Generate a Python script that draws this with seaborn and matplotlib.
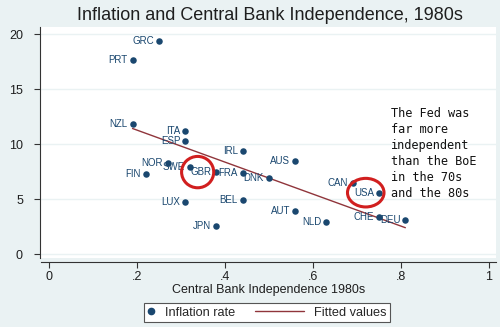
import numpy as np
import pandas as pd
import matplotlib
matplotlib.use("Agg")
import matplotlib.pyplot as plt
from matplotlib.patches import Ellipse
from matplotlib.lines import Line2D
from matplotlib.legend_handler import HandlerLine2D
import seaborn as sns

# ---- data ----
countries = ["GRC", "PRT", "NZL", "ITA", "ESP", "IRL", "NOR", "SWE", "FIN", "GBR",
             "FRA", "LUX", "BEL", "JPN", "DNK", "AUS", "CAN", "USA", "AUT", "NLD",
             "CHE", "DEU"]
cbi = [0.25, 0.19, 0.19, 0.31, 0.31, 0.44, 0.27, 0.32, 0.22, 0.38,
       0.44, 0.31, 0.44, 0.38, 0.50, 0.56, 0.69, 0.75, 0.56, 0.63,
       0.75, 0.81]
inflation = [19.4, 17.6, 11.85, 11.2, 10.25, 9.35, 8.3, 7.95, 7.3, 7.45,
             7.35, 4.7, 4.9, 2.55, 6.95, 8.45, 6.5, 5.55, 3.9, 2.9,
             3.35, 3.05]
x_ticks = [0, 0.2, 0.4, 0.6, 0.8, 1.0]
x_tick_labels = ["0", ".2", ".4", ".6", ".8", "1"]
y_ticks = [0, 5, 10, 15, 20]
y_tick_labels = ["0", "5", "10", "15", "20"]
title = "Inflation and Central Bank Independence, 1980s"
x_label = "Central Bank Independence 1980s"
legend_labels = ["Inflation rate", "Fitted values"]
note = "The Fed was\nfar more\nindependent\nthan the BoE\nin the 70s\nand the 80s"
circled = ["GBR", "USA"]

df = pd.DataFrame({"country": countries, "cbi": cbi, "inflation": inflation})

# ---- style ----
sns.set_theme(style="white")
plt.rcParams["font.family"] = ["Liberation Sans", "DejaVu Sans"]

NAVY = "#1a476f"
MAROON = "#90353b"
BG = "#eaf2f3"

fig = plt.figure(figsize=(5.0, 3.27), dpi=100, facecolor=BG)
ax = fig.add_axes([41 / 500, 1 - 258 / 327, (496 - 41) / 500, (258 - 27) / 327])
ax.set_facecolor("white")

sns.scatterplot(data=df, x="cbi", y="inflation", ax=ax, color=NAVY, s=22,
                edgecolor=NAVY, linewidth=0, zorder=3, legend=False)
sns.regplot(data=df, x="cbi", y="inflation", ax=ax, scatter=False, ci=None,
            line_kws=dict(color=MAROON, lw=1.0, zorder=2))

for c, xv, yv in zip(countries, cbi, inflation):
    ax.annotate(c, (xv, yv), xytext=(-3.5, 0), textcoords="offset points",
                ha="right", va="center", fontsize=7, color=NAVY, zorder=4)

# red circles around highlighted countries
circle_specs = {"GBR": (-0.042, 0.0, 0.073, 2.85), "USA": (-0.03, 0.03, 0.083, 2.6)}
for c in circled:
    i = countries.index(c)
    dx, dy, w, h = circle_specs[c]
    ax.add_patch(Ellipse((cbi[i] + dx, inflation[i] + dy), w, h, fill=False,
                         edgecolor="#d11f1f", lw=2.2, zorder=5))

ax.text(0.777, 13.35, note, family="DejaVu Sans Mono", fontsize=8.6,
        va="top", ha="left", linespacing=1.3, color="#111111", zorder=6)

ax.set_xlim(-0.018, 1.016)
ax.set_ylim(-0.36, 20.64)
ax.set_xticks(x_ticks)
ax.set_xticklabels(x_tick_labels)
ax.set_yticks(y_ticks)
ax.set_yticklabels(y_tick_labels, rotation=90, va="center")
ax.yaxis.grid(True, color=BG, lw=1.0)
ax.set_axisbelow(True)
ax.tick_params(axis="both", which="major", direction="out", length=4, width=0.8,
               color="#333333", labelsize=9, labelcolor="#1e1e1e", pad=2,
               bottom=True, left=True)
ax.tick_params(axis="y", pad=8)

for s in ["top", "right"]:
    ax.spines[s].set_visible(False)
ax.spines["left"].set_position(("outward", 1))
ax.spines["bottom"].set_position(("outward", 3))
for s in ["left", "bottom"]:
    ax.spines[s].set_color("#333333")
    ax.spines[s].set_linewidth(0.8)

ax.set_xlabel(x_label, fontsize=9, color="#1e1e1e", labelpad=1)
ax.set_ylabel("")
fig.text(269.5 / 500, 1 - 16 / 327, title, ha="center", va="center",
         fontsize=13, color="#1e1e1e")


class NarrowMarkerHandler(HandlerLine2D):
    def legend_artist(self, legend, orig_handle, fontsize, handlebox):
        handlebox.width = 5.0
        return super().legend_artist(legend, orig_handle, fontsize, handlebox)


marker_handle = Line2D([], [], marker="o", color=NAVY, linestyle="none", markersize=4.5)
line_handle = Line2D([], [], color=MAROON, lw=1.0)
leg = fig.legend([marker_handle, line_handle], legend_labels, ncol=2,
                 loc="center", bbox_to_anchor=(267 / 500, 1 - 312.5 / 327),
                 fontsize=9.2, frameon=True, fancybox=False, edgecolor="#555555",
                 facecolor="white", framealpha=1, handlelength=3.8,
                 columnspacing=1.6, handletextpad=0.8, borderpad=0.3,
                 borderaxespad=0,
                 handler_map={marker_handle: NarrowMarkerHandler()})
leg.get_frame().set_linewidth(0.8)

fig.savefig("out.png", dpi=100, facecolor=BG)
